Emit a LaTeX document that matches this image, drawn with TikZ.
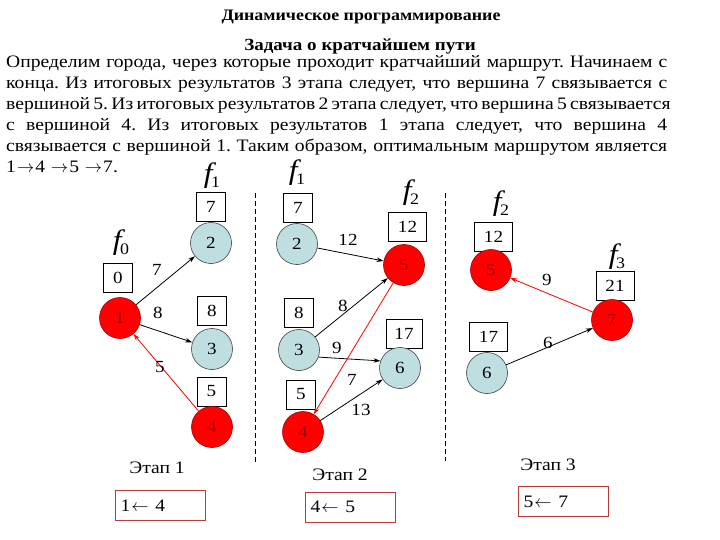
\documentclass[tikz,border=0pt]{standalone}
\usepackage{fontspec}
\setmainfont[FakeStretch=1.12]{Liberation Serif}
\usetikzlibrary{arrows.meta}
\definecolor{nodeblue}{RGB}{190,222,224}
\definecolor{nodedark}{RGB}{160,0,0}
\definecolor{boxred}{RGB}{185,60,60}
\newcommand\fsym[1]{{\fontsize{28}{28}\selectfont\itshape f}\kern-1.5pt\raisebox{-5pt}{\fontsize{16}{16}\selectfont #1}}
\newcommand\bodyfont{\fontsize{17.5}{21}\selectfont\frenchspacing}
\newcommand\ra{\kern1pt$\rightarrow$\kern1pt}
\newcommand\la{\kern1pt$\leftarrow$\kern1pt}
\begin{document}
\begin{tikzpicture}[x=1pt,y=-1pt,
  bnode/.style={circle,draw=black!75,line width=0.6pt,fill=nodeblue,minimum size=41pt,inner sep=0pt,font=\fontsize{17}{17}\selectfont},
  rnode/.style={circle,draw=nodedark,line width=0.6pt,fill=red,text=nodedark,minimum size=41pt,inner sep=0pt,font=\fontsize{17}{17}\selectfont},
  vbox/.style={draw=black,line width=0.6pt,fill=white,minimum width=29pt,minimum height=29pt,inner sep=0pt,font=\fontsize{17}{17}\selectfont},
  wbox/.style={vbox,minimum width=38pt},
  arr/.style={-{Stealth[length=7pt,width=4.5pt]},black,line width=0.8pt},
  rarr/.style={arr,red},
  elab/.style={font=\fontsize{17}{17}\selectfont,inner sep=0pt},
  flab/.style={inner sep=0pt},
  sepline/.style={black,line width=0.6pt,dash pattern=on 5pt off 3pt},
  res/.style={draw=boxred,line width=0.6pt,minimum height=30pt,text width=80pt,align=left,inner xsep=5pt,font=\bodyfont},
  txt/.style={anchor=base west,inner sep=0pt,font=\bodyfont},
  stg/.style={inner sep=0pt,font=\bodyfont}
]
\useasboundingbox (0,0) rectangle (720,540);
\fill[white] (0,0) rectangle (720,540);

% titles
\node[anchor=base,inner sep=0pt,font=\fontsize{16}{16}\selectfont\bfseries] (t1) at (361,21) {Динамическое программирование};
\node[anchor=base,inner sep=0pt,font=\fontsize{17}{17}\selectfont\bfseries] (t2) at (360,51) {Задача о кратчайшем пути};

% paragraph
\node[txt] (p1) at (6,68) {\makebox[661pt][s]{Определим города, через которые проходит кратчайший маршрут. Начинаем с}};
\node[txt] (p2) at (6,89) {\makebox[661pt][s]{конца. Из итоговых результатов 3 этапа следует, что вершина 7 связывается с}};
\node[txt] (p3) at (6,110) {\makebox[661pt][s]{вершиной 5. Из итоговых результатов 2 этапа следует, что вершина 5 связывается}};
\node[txt] (p4) at (6,131) {\makebox[661pt][s]{с вершиной 4. Из итоговых результатов 1 этапа следует, что вершина 4}};
\node[txt] (p5) at (6,152) {\makebox[661pt][s]{связывается с вершиной 1. Таким образом, оптимальным маршрутом является}};
\node[txt] (p6) at (6,173) {1\ra4 \ra5 \ra7.};

% separators
\coordinate (d1a) at (255,193); \coordinate (d1b) at (255,463);
\coordinate (d2a) at (445,193); \coordinate (d2b) at (445,461);
\draw[sepline] (d1a) -- (d1b);
\draw[sepline] (d2a) -- (d2b);

% f labels
\node[flab] (f0) at (121,243) {\fsym{0}};
\node[flab] (f1a) at (212,176) {\fsym{1}};
\node[flab] (f1b) at (297,173) {\fsym{1}};
\node[flab] (f2a) at (411,193) {\fsym{2}};
\node[flab] (f2b) at (501,204) {\fsym{2}};
\node[flab] (f3) at (617,257) {\fsym{3}};

% value boxes
\node[vbox] (v0) at (118,278) {0};
\node[vbox] (v1a) at (211,206.5) {7};
\node[vbox] (v1b) at (212,311) {8};
\node[vbox] (v1c) at (211.5,391.5) {5};
\node[vbox] (v2a) at (298,208) {7};
\node[vbox] (v2b) at (299,312.5) {8};
\node[vbox] (v2c) at (301,394.5) {5};
\node[wbox] (v2d) at (407.5,226.5) {12};
\node[wbox,minimum width=36pt] (v2e) at (404,334) {17};
\node[wbox] (v3a) at (493.5,236.5) {12};
\node[wbox] (v3b) at (488.5,337) {17};
\node[wbox] (v3c) at (615,286) {21};

% circles
\node[rnode] (a1) at (120,318) {1};
\node[bnode] (b2) at (211,243) {2};
\node[bnode] (b3) at (212,349) {3};
\node[rnode] (b4) at (212,427) {4};
\node[bnode] (c2) at (297,244) {2};
\node[bnode] (c3) at (299,350) {3};
\node[rnode] (c4) at (303,432) {4};
\node[rnode] (c5) at (404,265) {5};
\node[bnode] (c6) at (400,368) {6};
\node[rnode] (d5) at (491,270) {5};
\node[bnode] (d6) at (487,373) {6};
\node[rnode] (d7) at (612,320) {7};

% edges stage 1
\draw[arr] (a1) -- (b2);
\draw[arr] (a1) -- (b3);
\draw[rarr] (b4) -- (a1);
% edges stage 2
\draw[arr] (c2) -- (c5);
\draw[arr] (c3) -- (c5);
\draw[arr] (c3.-20) -- (c6.160);
\draw[arr] (c4) -- (c6);
\draw[rarr] (c5) -- (c4);
% edges stage 3
\draw[rarr] (d7) -- (d5);
\draw[arr] (d6) -- (d7);

% edge labels
\node[elab] (e1) at (157,270) {7};
\node[elab] (e2) at (158,313) {8};
\node[elab] (e3) at (160,367) {5};
\node[elab] (e4) at (348,240) {12};
\node[elab] (e5) at (343,306) {8};
\node[elab] (e6) at (337,348) {9};
\node[elab] (e7) at (352,380) {7};
\node[elab] (e8) at (361,410) {13};
\node[elab] (e9) at (547,280) {9};
\node[elab] (e10) at (548,343) {6};

% stage labels
\node[stg] (s1) at (157,468) {Этап 1};
\node[stg] (s2) at (340,475) {Этап 2};
\node[stg] (s3) at (548,465) {Этап 3};

% results
\node[res] (r1) at (160.5,505.5) {1\la\ 4};
\node[res] (r2) at (350.5,507) {4\la\ 5};
\node[res] (r3) at (563.5,501.5) {5\la\ 7};
\end{tikzpicture}
\end{document}
